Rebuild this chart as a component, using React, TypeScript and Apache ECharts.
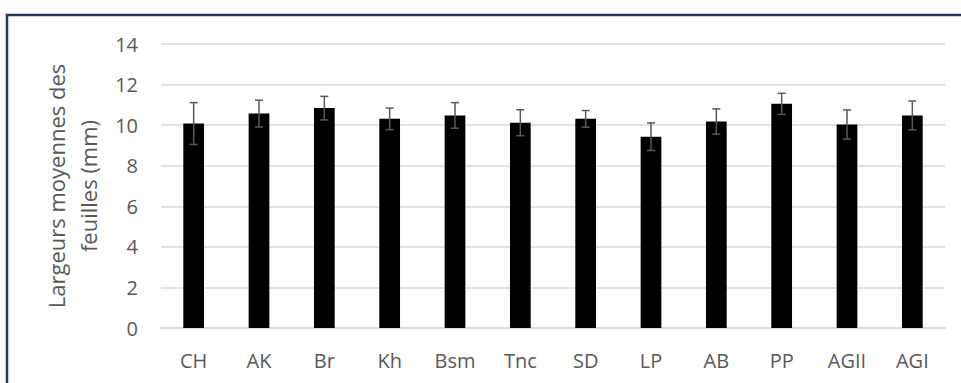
import React, { useEffect, useRef } from "react";
import * as echarts from "echarts";

const categories = ["CH", "AK", "Br", "Kh", "Bsm", "Tnc", "SD", "LP", "AB", "PP", "AGII", "AGI"];
const means = [10.08, 10.57, 10.84, 10.31, 10.48, 10.12, 10.31, 9.43, 10.18, 11.05, 10.03, 10.48];
const errors = [1.03, 0.66, 0.58, 0.53, 0.63, 0.64, 0.41, 0.68, 0.62, 0.52, 0.72, 0.71];
const yTicks = { min: 0, max: 14, interval: 2 };
const yTitle = "Largeurs moyennes des\nfeuilles (mm)";

const FONT = "Open Sans";
const TEXT = "#595959";

export default function App() {
  const ref = useRef<HTMLDivElement>(null);
  useEffect(() => {
    if (!ref.current) return;
    const chart = echarts.init(ref.current, null, { renderer: "svg" });
    const errData = means.map((m, i) => [i, m - errors[i], m + errors[i]]);
    chart.setOption({
      animation: false,
      backgroundColor: "#ffffff",
      textStyle: { fontFamily: FONT },
      grid: { left: 161, right: 16, top: 44, bottom: 55, containLabel: false },
      xAxis: {
        type: "category",
        data: categories,
        axisLine: { show: true, lineStyle: { color: "#d9d9d9", width: 1.5 } },
        axisTick: { show: false },
        axisLabel: { color: TEXT, fontSize: 20, fontFamily: FONT, margin: 22 },
      },
      yAxis: {
        type: "value",
        min: yTicks.min,
        max: yTicks.max,
        interval: yTicks.interval,
        axisLine: { show: false },
        axisTick: { show: false },
        axisLabel: { color: TEXT, fontSize: 20, fontFamily: FONT, margin: 23 },
        splitLine: { lineStyle: { color: "#d9d9d9", width: 1.5 } },
        name: yTitle,
        nameLocation: "middle",
        nameRotate: 90,
        nameGap: 53,
        nameTextStyle: { color: TEXT, fontSize: 22, fontFamily: FONT, lineHeight: 32 },
      },
      graphic: [
        {
          type: "rect",
          silent: true,
          shape: { x: 7, y: 15, width: 1000, height: 400 },
          style: { fill: "none", stroke: "#1F3864", lineWidth: 2.5 },
          z: 100,
        },
      ],
      series: [
        {
          type: "bar",
          data: means,
          barWidth: "31.7%",
          itemStyle: { color: "#000000" },
          z: 2,
        },
        {
          type: "custom",
          data: errData,
          z: 3,
          renderItem: (params: any, api: any) => {
            const x = api.coord([api.value(0), 0])[0];
            const lo = api.coord([api.value(0), api.value(1)])[1];
            const hi = api.coord([api.value(0), api.value(2)])[1];
            const hw = 4;
            const style = { stroke: "#595959", lineWidth: 1.5 };
            return {
              type: "group",
              children: [
                { type: "line", shape: { x1: x, y1: lo, x2: x, y2: hi }, style },
                { type: "line", shape: { x1: x - hw, y1: hi, x2: x + hw, y2: hi }, style },
                { type: "line", shape: { x1: x - hw, y1: lo, x2: x + hw, y2: lo }, style },
              ],
            };
          },
        },
      ],
    });
    return () => chart.dispose();
  }, []);
  return (
    <div
      ref={ref}
      style={{ position: "fixed", left: 0, top: 0, width: 961, height: 383 }}
    />
  );
}
